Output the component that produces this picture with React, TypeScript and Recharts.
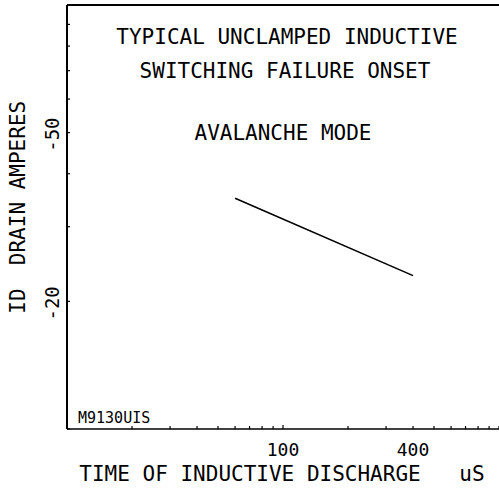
import { LineChart, Line, XAxis, YAxis, ReferenceLine } from "recharts";

// discharge time (uS) and failure onset current (A)
const timeUs = [60, 400];
const drainAmps = [-35, -23];

const xTicks = [10, 20, 30, 40, 50, 60, 70, 80, 90, 100, 200, 300, 400, 500, 600, 700, 800, 900, 1000];
const xLabels = [100, 400];
const yTicks = [-100, -90, -80, -70, -60, -50, -40, -30, -20, -10];
const yLabels = [-50, -20];

const titleLines = ["TYPICAL UNCLAMPED INDUCTIVE", "SWITCHING FAILURE ONSET"];
const modeText = "AVALANCHE MODE";
const partText = "M9130UIS";

const font = "'DejaVu Sans Mono', monospace";
const W = 499;
const H = 491;

const data = timeUs.map((t, i) => ({ t, id: drainAmps[i] }));

const XTick = (props: any) => {
  const { x, y, payload } = props;
  const v = payload.value as number;
  return (
    <g>
      <line x1={x} y1={y} x2={x} y2={y - (v === 100 ? 4 : 3)} stroke="#000" strokeWidth={1.2} />
      {xLabels.includes(v) && (
        <text x={x} y={y + 20} textAnchor="middle" dominantBaseline="central"
          fontFamily={font} fontSize={18} fill="#000">
          {v}
        </text>
      )}
    </g>
  );
};

const YTick = (props: any) => {
  const { x, y, payload } = props;
  const v = payload.value as number;
  return (
    <g>
      <line x1={x} y1={y} x2={x + 3} y2={y} stroke="#000" strokeWidth={1.2} />
      {yLabels.includes(v) && (
        <text x={x - 15} y={y + 2} textAnchor="middle" dominantBaseline="central"
          fontFamily={font} fontSize={19} fill="#000"
          transform={`rotate(-90 ${x - 15} ${y + 2})`}>
          {v}
        </text>
      )}
    </g>
  );
};

export default function App() {
  return (
    <div style={{ position: "absolute", left: 0, top: 0, width: W, height: H, background: "#fff" }}>
      <LineChart width={W} height={H} data={data} margin={{ top: 5, right: 0, bottom: 0, left: 0 }}>
        <XAxis
          dataKey="t"
          type="number"
          scale="log"
          domain={[10, 1000]}
          ticks={xTicks}
          allowDataOverflow
          height={62}
          tickSize={0}
          tickMargin={0}
          tickLine={false}
          tick={<XTick />}
          interval={0}
          axisLine={{ stroke: "#000", strokeWidth: 1.5 }}
        />
        <YAxis
          dataKey="id"
          type="number"
          scale="log"
          domain={[-100, -10]}
          reversed
          ticks={yTicks}
          allowDataOverflow
          width={67}
          tickSize={0}
          tickMargin={0}
          tickLine={false}
          tick={<YTick />}
          interval={0}
          axisLine={{ stroke: "#000", strokeWidth: 2 }}
        />
        <ReferenceLine y={-100} stroke="#000" strokeWidth={2} />
        <Line
          type="linear"
          dataKey="id"
          stroke="#000"
          strokeWidth={1.6}
          dot={false}
          isAnimationActive={false}
        />
      </LineChart>
      <svg width={W} height={H} style={{ position: "absolute", left: 0, top: 0, pointerEvents: "none" }}>
        <g fontFamily={font} fill="#000" fontSize={21}>
          <text x={287} y={37} textAnchor="middle" dominantBaseline="central">{titleLines[0]}</text>
          <text x={285} y={71} textAnchor="middle" dominantBaseline="central">{titleLines[1]}</text>
          <text x={283} y={133} textAnchor="middle" dominantBaseline="central">{modeText}</text>
          <text x={250} y={474} textAnchor="middle" dominantBaseline="central">TIME OF INDUCTIVE DISCHARGE</text>
          <text x={472} y={474} textAnchor="middle" dominantBaseline="central">uS</text>
          <text x={18} y={183} textAnchor="middle" dominantBaseline="central" transform="rotate(-90 18 183)">DRAIN AMPERES</text>
          <text x={18} y={301} textAnchor="middle" dominantBaseline="central" transform="rotate(-90 18 301)">ID</text>
          <text x={78} y={418} dominantBaseline="central" fontSize={15}>{partText}</text>
        </g>
      </svg>
    </div>
  );
}
